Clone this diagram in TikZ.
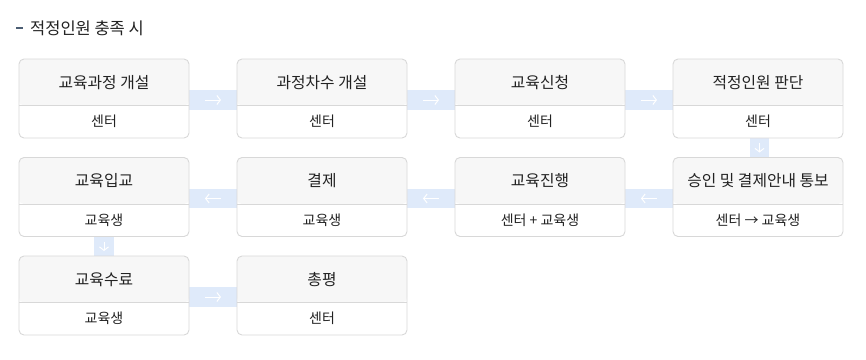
\documentclass[tikz,border=0pt]{standalone}
\usepackage{fontspec}
\setmainfont{Noto Sans CJK KR}
\usepackage{xcolor}
\usetikzlibrary{arrows.meta, positioning, backgrounds}

\definecolor{boxline}{HTML}{D8D8D8}
\definecolor{headfill}{HTML}{F7F7F7}
\definecolor{bandblue}{HTML}{DFEAFA}
\definecolor{dashslate}{HTML}{4B5D73}
\definecolor{inktext}{HTML}{222222}

\begin{document}
\begin{tikzpicture}[
    x=1pt, y=-1pt,
    node distance=19.5pt and 48pt,
    stepbox/.style={rectangle, draw=boxline, line width=0.9pt, fill=white, rounded corners=5pt,
      minimum width=170pt, minimum height=79pt, inner sep=0pt, outer sep=0pt,
      path picture={
        \fill[headfill] (path picture bounding box.north west) rectangle ([yshift=-46.5pt]path picture bounding box.north east);
        \draw[boxline, line width=0.9pt] ([yshift=-46.5pt]path picture bounding box.north west) -- ([yshift=-46.5pt]path picture bounding box.north east);
      }},
    headtext/.style={font=\fontsize{15.8}{18}\selectfont, text=inktext, inner sep=0pt},
    subtext/.style={font=\fontsize{14}{16}\selectfont, text=inktext, inner sep=0pt},
    band/.style={bandblue, line width=19.5pt},
    flow/.style={white, line width=1pt, -{Straight Barb[length=3.5pt, width=9pt]}},
  ]
  \useasboundingbox (0,0) rectangle (866,359);

  % Heading
  \node[rectangle, fill=dashslate, minimum width=6.5pt, minimum height=2.6pt, inner sep=0pt] (dash) at (19.5,28) {};
  \node[right=7pt of dash, font=\fontsize{16.5}{19}\selectfont, text=inktext, inner sep=0pt] (heading) {적정인원 충족 시};

  % First row
  \node[stepbox] (s1) at (104,98.5) {};
  \node[stepbox, right=of s1] (s2) {};
  \node[stepbox, right=of s2] (s3) {};
  \node[stepbox, right=of s3] (s4) {};

  % Second row (runs right to left)
  \node[stepbox, below=of s4] (s5) {};
  \node[stepbox, left=of s5] (s6) {};
  \node[stepbox, left=of s6] (s7) {};
  \node[stepbox, left=of s7] (s8) {};

  % Third row
  \node[stepbox, below=of s8] (s9) {};
  \node[stepbox, right=of s9] (s10) {};

  % Texts
  \node[headtext] (s1t) at ([yshift=-23.5pt]s1.north) {교육과정 개설};
  \node[subtext] (s1s) at ([yshift=16.5pt]s1.south) {센터};
  \node[headtext] (s2t) at ([yshift=-23.5pt]s2.north) {과정차수 개설};
  \node[subtext] (s2s) at ([yshift=16.5pt]s2.south) {센터};
  \node[headtext] (s3t) at ([yshift=-23.5pt]s3.north) {교육신청};
  \node[subtext] (s3s) at ([yshift=16.5pt]s3.south) {센터};
  \node[headtext] (s4t) at ([yshift=-23.5pt]s4.north) {적정인원 판단};
  \node[subtext] (s4s) at ([yshift=16.5pt]s4.south) {센터};
  \node[headtext] (s5t) at ([yshift=-23.5pt]s5.north) {승인 및 결제안내 통보};
  \node[subtext] (s5s) at ([yshift=16.5pt]s5.south) {센터 → 교육생};
  \node[headtext] (s6t) at ([yshift=-23.5pt]s6.north) {교육진행};
  \node[subtext] (s6s) at ([yshift=16.5pt]s6.south) {센터 + 교육생};
  \node[headtext] (s7t) at ([yshift=-23.5pt]s7.north) {결제};
  \node[subtext] (s7s) at ([yshift=16.5pt]s7.south) {교육생};
  \node[headtext] (s8t) at ([yshift=-23.5pt]s8.north) {교육입교};
  \node[subtext] (s8s) at ([yshift=16.5pt]s8.south) {교육생};
  \node[headtext] (s9t) at ([yshift=-23.5pt]s9.north) {교육수료};
  \node[subtext] (s9s) at ([yshift=16.5pt]s9.south) {교육생};
  \node[headtext] (s10t) at ([yshift=-23.5pt]s10.north) {총평};
  \node[subtext] (s10s) at ([yshift=16.5pt]s10.south) {센터};

  % Connecting bands
  \begin{scope}[on background layer]
    \draw[band] ([yshift=-1.5pt]s1.east) -- ([yshift=-1.5pt]s2.west);
    \draw[band] ([yshift=-1.5pt]s2.east) -- ([yshift=-1.5pt]s3.west);
    \draw[band] ([yshift=-1.5pt]s3.east) -- ([yshift=-1.5pt]s4.west);
    \draw[band] ([xshift=1.5pt]s4.south) -- ([xshift=1.5pt]s5.north);
    \draw[band] ([yshift=-1.5pt]s5.west) -- ([yshift=-1.5pt]s6.east);
    \draw[band] ([yshift=-1.5pt]s6.west) -- ([yshift=-1.5pt]s7.east);
    \draw[band] ([yshift=-1.5pt]s7.west) -- ([yshift=-1.5pt]s8.east);
    \draw[band] (s8.south) -- (s9.north);
    \draw[band] ([yshift=-1.5pt]s9.east) -- ([yshift=-1.5pt]s10.west);
  \end{scope}

  % Arrows
  \draw[flow] ([shift={(16,1.5)}]s1.east) -- ([shift={(-16,1.5)}]s2.west);
  \draw[flow] ([shift={(16,1.5)}]s2.east) -- ([shift={(-16,1.5)}]s3.west);
  \draw[flow] ([shift={(16,1.5)}]s3.east) -- ([shift={(-16,1.5)}]s4.west);
  \draw[flow] ([shift={(1.5,5)}]s4.south) -- ([shift={(1.5,-5)}]s5.north);
  \draw[flow] ([shift={(-16,1.5)}]s5.west) -- ([shift={(16,1.5)}]s6.east);
  \draw[flow] ([shift={(-16,1.5)}]s6.west) -- ([shift={(16,1.5)}]s7.east);
  \draw[flow] ([shift={(-16,1.5)}]s7.west) -- ([shift={(16,1.5)}]s8.east);
  \draw[flow] ([yshift=-5pt]s8.south) -- ([yshift=5pt]s9.north);
  \draw[flow] ([shift={(16,1.5)}]s9.east) -- ([shift={(-16,1.5)}]s10.west);

\end{tikzpicture}
\end{document}
